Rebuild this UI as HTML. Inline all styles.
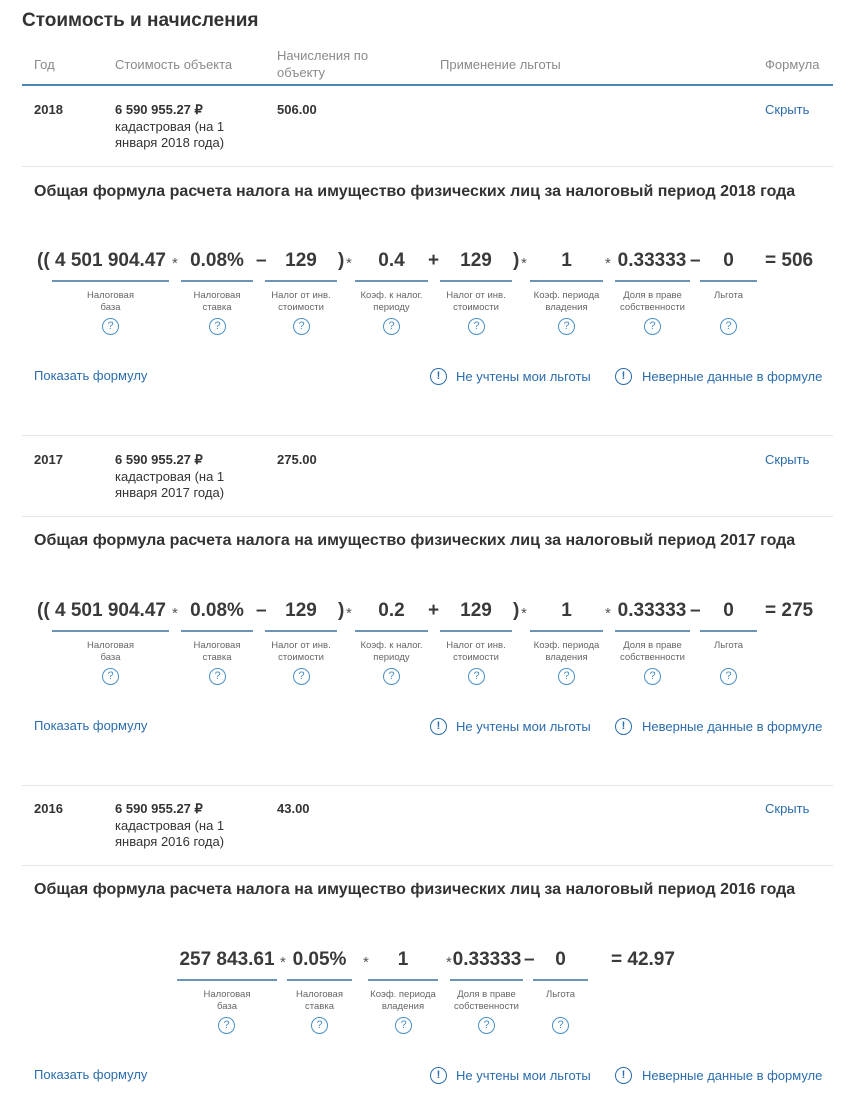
<!DOCTYPE html>
<html><head><meta charset="utf-8"><style>
*{margin:0;padding:0;box-sizing:border-box}
body{width:850px;height:1104px;background:#fff;font-family:"Liberation Sans",sans-serif;color:#333;position:relative;overflow:hidden}
.a{position:absolute;white-space:nowrap}
.blk{position:absolute;left:0;width:850px;height:350px}
.h{color:#8a8a8a;font-size:13px;line-height:17px}
.b{font-weight:bold;font-size:13px}
.t{font-size:13px;line-height:16.5px}
.lk{color:#2a6cae;font-size:13px}
.ft{font-weight:bold;font-size:16px;color:#333}
.v{position:absolute;top:249px;height:24px;line-height:24px;font-size:19px;font-weight:bold;text-align:center;color:#3a3a3a;white-space:nowrap}
.u{position:absolute;top:280px;height:2px;background:#6d94b4}
.lb{position:absolute;top:290px;font-size:9.5px;line-height:12px;color:#666;text-align:center}
.q{position:absolute;top:318px;width:17px;height:17px;border:1.3px solid #4a90c8;border-radius:50%;color:#4a90c8;font-size:11px;line-height:15px;text-align:center}
.op{position:absolute;top:249px;height:24px;line-height:24px;font-size:19px;font-weight:bold;color:#3a3a3a;white-space:nowrap}
.st{position:absolute;top:252px;height:24px;line-height:24px;font-size:15px;color:#555}
.ex{position:absolute;top:368px;width:17px;height:17px;border:1.5px solid #2a6cae;border-radius:50%;color:#2a6cae;font-size:11px;font-weight:bold;line-height:14px;text-align:center}
.sep{position:absolute;left:22px;width:811px;height:1px;background:#e6e6e6}
</style></head><body>
<div class="a" style="left:22px;top:10px;font-size:19px;font-weight:bold;color:#333">Стоимость и начисления</div>
<div class="a h" style="left:34px;top:56px">Год</div>
<div class="a h" style="left:115px;top:56px">Стоимость объекта</div>
<div class="a h" style="left:277px;top:47px">Начисления по<br>объекту</div>
<div class="a h" style="left:440px;top:56px">Применение льготы</div>
<div class="a h" style="left:765px;top:56px">Формула</div>
<div class="a" style="left:22px;top:84px;width:811px;height:2px;background:#4a86b4"></div>

<!-- 2018 -->
<div class="blk" style="top:0">
<div class="a b" style="left:34px;top:102px">2018</div>
<div class="a t" style="left:115px;top:102px"><b>6 590 955.27 ₽</b><br>кадастровая (на 1<br>января 2018 года)</div>
<div class="a b" style="left:277px;top:102px">506.00</div>
<div class="a lk" style="left:765px;top:102px">Скрыть</div>
<div class="sep" style="top:166px"></div>
<div class="a ft" style="left:34px;top:183px">Общая формула расчета налога на имущество физических лиц за налоговый период 2018 года</div>
<div class="op" style="left:37px">((</div>
<div class="v" style="left:52px;width:117px">4 501 904.47</div><div class="u" style="left:52px;width:117px"></div>
<div class="st" style="left:172px">*</div>
<div class="v" style="left:181px;width:72px">0.08%</div><div class="u" style="left:181px;width:72px"></div>
<div class="op" style="left:256px">–</div>
<div class="v" style="left:265px;width:72px">129</div><div class="u" style="left:265px;width:72px"></div>
<div class="op" style="left:338px">)</div><div class="st" style="left:346px">*</div>
<div class="v" style="left:355px;width:73px">0.4</div><div class="u" style="left:355px;width:73px"></div>
<div class="op" style="left:428px">+</div>
<div class="v" style="left:440px;width:72px">129</div><div class="u" style="left:440px;width:72px"></div>
<div class="op" style="left:513px">)</div><div class="st" style="left:521px">*</div>
<div class="v" style="left:530px;width:73px">1</div><div class="u" style="left:530px;width:73px"></div>
<div class="st" style="left:605px">*</div>
<div class="v" style="left:614px;width:76px">0.33333</div><div class="u" style="left:615px;width:75px"></div>
<div class="op" style="left:690px">–</div>
<div class="v" style="left:700px;width:57px">0</div><div class="u" style="left:700px;width:57px"></div>
<div class="op" style="left:765px">= 506</div>
<div class="lb" style="left:52px;width:117px">Налоговая<br>база</div><div class="q" style="left:102px">?</div>
<div class="lb" style="left:181px;width:72px">Налоговая<br>ставка</div><div class="q" style="left:209px">?</div>
<div class="lb" style="left:265px;width:72px">Налог от инв.<br>стоимости</div><div class="q" style="left:293px">?</div>
<div class="lb" style="left:355px;width:73px">Коэф. к налог.<br>периоду</div><div class="q" style="left:383px">?</div>
<div class="lb" style="left:440px;width:72px">Налог от инв.<br>стоимости</div><div class="q" style="left:468px">?</div>
<div class="lb" style="left:525px;width:83px">Коэф. периода<br>владения</div><div class="q" style="left:558px">?</div>
<div class="lb" style="left:610px;width:85px">Доля в праве<br>собственности</div><div class="q" style="left:644px">?</div>
<div class="lb" style="left:700px;width:57px">Льгота</div><div class="q" style="left:720px">?</div>
<div class="a lk" style="left:34px;top:368px">Показать формулу</div>
<div class="ex" style="left:430px">!</div><div class="a lk" style="left:456px;top:369px">Не учтены мои льготы</div>
<div class="ex" style="left:615px">!</div><div class="a lk" style="left:642px;top:369px">Неверные данные в формуле</div>
<div class="sep" style="top:435px"></div>
</div>

<!-- 2017 -->
<div class="blk" style="top:350px">
<div class="a b" style="left:34px;top:102px">2017</div>
<div class="a t" style="left:115px;top:102px"><b>6 590 955.27 ₽</b><br>кадастровая (на 1<br>января 2017 года)</div>
<div class="a b" style="left:277px;top:102px">275.00</div>
<div class="a lk" style="left:765px;top:102px">Скрыть</div>
<div class="sep" style="top:166px"></div>
<div class="a ft" style="left:34px;top:182px">Общая формула расчета налога на имущество физических лиц за налоговый период 2017 года</div>
<div class="op" style="left:37px">((</div>
<div class="v" style="left:52px;width:117px">4 501 904.47</div><div class="u" style="left:52px;width:117px"></div>
<div class="st" style="left:172px">*</div>
<div class="v" style="left:181px;width:72px">0.08%</div><div class="u" style="left:181px;width:72px"></div>
<div class="op" style="left:256px">–</div>
<div class="v" style="left:265px;width:72px">129</div><div class="u" style="left:265px;width:72px"></div>
<div class="op" style="left:338px">)</div><div class="st" style="left:346px">*</div>
<div class="v" style="left:355px;width:73px">0.2</div><div class="u" style="left:355px;width:73px"></div>
<div class="op" style="left:428px">+</div>
<div class="v" style="left:440px;width:72px">129</div><div class="u" style="left:440px;width:72px"></div>
<div class="op" style="left:513px">)</div><div class="st" style="left:521px">*</div>
<div class="v" style="left:530px;width:73px">1</div><div class="u" style="left:530px;width:73px"></div>
<div class="st" style="left:605px">*</div>
<div class="v" style="left:614px;width:76px">0.33333</div><div class="u" style="left:615px;width:75px"></div>
<div class="op" style="left:690px">–</div>
<div class="v" style="left:700px;width:57px">0</div><div class="u" style="left:700px;width:57px"></div>
<div class="op" style="left:765px">= 275</div>
<div class="lb" style="left:52px;width:117px">Налоговая<br>база</div><div class="q" style="left:102px">?</div>
<div class="lb" style="left:181px;width:72px">Налоговая<br>ставка</div><div class="q" style="left:209px">?</div>
<div class="lb" style="left:265px;width:72px">Налог от инв.<br>стоимости</div><div class="q" style="left:293px">?</div>
<div class="lb" style="left:355px;width:73px">Коэф. к налог.<br>периоду</div><div class="q" style="left:383px">?</div>
<div class="lb" style="left:440px;width:72px">Налог от инв.<br>стоимости</div><div class="q" style="left:468px">?</div>
<div class="lb" style="left:525px;width:83px">Коэф. периода<br>владения</div><div class="q" style="left:558px">?</div>
<div class="lb" style="left:610px;width:85px">Доля в праве<br>собственности</div><div class="q" style="left:644px">?</div>
<div class="lb" style="left:700px;width:57px">Льгота</div><div class="q" style="left:720px">?</div>
<div class="a lk" style="left:34px;top:368px">Показать формулу</div>
<div class="ex" style="left:430px">!</div><div class="a lk" style="left:456px;top:369px">Не учтены мои льготы</div>
<div class="ex" style="left:615px">!</div><div class="a lk" style="left:642px;top:369px">Неверные данные в формуле</div>
<div class="sep" style="top:435px"></div>
</div>

<!-- 2016 -->
<div class="blk" style="top:699px">
<div class="a b" style="left:34px;top:102px">2016</div>
<div class="a t" style="left:115px;top:102px"><b>6 590 955.27 ₽</b><br>кадастровая (на 1<br>января 2016 года)</div>
<div class="a b" style="left:277px;top:102px">43.00</div>
<div class="a lk" style="left:765px;top:102px">Скрыть</div>
<div class="sep" style="top:166px"></div>
<div class="a ft" style="left:34px;top:182px">Общая формула расчета налога на имущество физических лиц за налоговый период 2016 года</div>
<div class="v" style="left:177px;width:100px">257 843.61</div><div class="u" style="left:177px;width:100px"></div>
<div class="st" style="left:280px">*</div>
<div class="v" style="left:287px;width:65px">0.05%</div><div class="u" style="left:287px;width:65px"></div>
<div class="st" style="left:363px">*</div>
<div class="v" style="left:368px;width:70px">1</div><div class="u" style="left:368px;width:70px"></div>
<div class="st" style="left:446px">*</div>
<div class="v" style="left:450px;width:74px">0.33333</div><div class="u" style="left:450px;width:73px"></div>
<div class="op" style="left:524px">–</div>
<div class="v" style="left:533px;width:55px">0</div><div class="u" style="left:533px;width:55px"></div>
<div class="op" style="left:611px">= 42.97</div>
<div class="lb" style="left:177px;width:100px">Налоговая<br>база</div><div class="q" style="left:218px">?</div>
<div class="lb" style="left:287px;width:65px">Налоговая<br>ставка</div><div class="q" style="left:311px">?</div>
<div class="lb" style="left:363px;width:80px">Коэф. периода<br>владения</div><div class="q" style="left:395px">?</div>
<div class="lb" style="left:444px;width:85px">Доля в праве<br>собственности</div><div class="q" style="left:478px">?</div>
<div class="lb" style="left:533px;width:55px">Льгота</div><div class="q" style="left:552px">?</div>
<div class="a lk" style="left:34px;top:368px">Показать формулу</div>
<div class="ex" style="left:430px">!</div><div class="a lk" style="left:456px;top:369px">Не учтены мои льготы</div>
<div class="ex" style="left:615px">!</div><div class="a lk" style="left:642px;top:369px">Неверные данные в формуле</div>
</div>
</body></html>
